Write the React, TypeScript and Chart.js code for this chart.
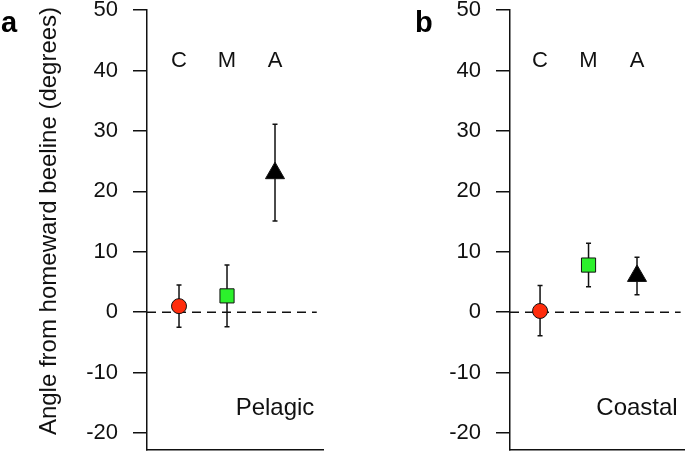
import React, { useEffect, useRef } from 'react';
import { Chart, registerables } from 'chart.js';

Chart.register(...registerables);

// ---- data ----
const categories = ['C', 'M', 'A'];
const categoryX = [1, 2, 3];
const pelagicMean = [1.0, 2.7, 23.0];
const pelagicUpper = [4.5, 7.8, 31.1];
const pelagicLower = [-2.5, -2.4, 15.1];
const coastalMean = [0.2, 7.8, 6.0];
const coastalUpper = [4.4, 11.4, 9.1];
const coastalLower = [-3.9, 4.2, 2.9];
const yTickValues = [-20, -10, 0, 10, 20, 30, 40, 50];
const yAxisTitle = 'Angle from homeward beeline (degrees)';

const markerStyles = ['circle', 'rect', 'triangle'];
const markerColors = ['#ff2c0c', '#2cf02c', '#000000'];
const markerRadii = [7.5, 10, 11];

const FONT = '"Liberation Sans", Arial, Helvetica, sans-serif';
const INK = '#111111';

type PanelProps = {
  letter: string;
  habitat: string;
  mean: number[];
  upper: number[];
  lower: number[];
  width: number;
  left: number;
  yAxisWidth: number;
  rightPad: number;
  xMin: number;
  xMax: number;
  refEnd: number;
  letterX: number;
  showTitle: boolean;
};

function Panel(p: PanelProps) {
  const ref = useRef<HTMLCanvasElement | null>(null);
  useEffect(() => {
    if (!ref.current) return;
    const annot = {
      id: 'annot' + p.letter,
      beforeDatasetsDraw(chart: any) {
        const { ctx } = chart;
        const xs = chart.scales.x;
        const ys = chart.scales.y;
        ctx.save();
        ctx.strokeStyle = INK;
        ctx.lineWidth = 1.5;
        p.upper.forEach((u, i) => {
          const px = xs.getPixelForValue(categoryX[i]);
          const top = ys.getPixelForValue(u);
          const bot = ys.getPixelForValue(p.lower[i]);
          ctx.beginPath();
          ctx.moveTo(px, top);
          ctx.lineTo(px, bot);
          ctx.moveTo(px - 2.5, top);
          ctx.lineTo(px + 2.5, top);
          ctx.moveTo(px - 2.5, bot);
          ctx.lineTo(px + 2.5, bot);
          ctx.stroke();
        });
        ctx.restore();
      },
      afterDraw(chart: any) {
        const { ctx } = chart;
        const xs = chart.scales.x;
        ctx.save();
        ctx.fillStyle = INK;
        ctx.textBaseline = 'alphabetic';
        ctx.textAlign = 'center';
        ctx.font = `22px ${FONT}`;
        categories.forEach((c, i) => {
          ctx.fillText(c, xs.getPixelForValue(categoryX[i]), 67);
        });
        ctx.font = `24px ${FONT}`;
        ctx.fillText(p.habitat, xs.getPixelForValue(categoryX[2]), 415);
        ctx.textAlign = 'left';
        ctx.font = `bold 29px ${FONT}`;
        ctx.fillStyle = '#000';
        ctx.fillText(p.letter, p.letterX, 32);
        if (p.showTitle) {
          ctx.fillStyle = INK;
          ctx.font = `24px ${FONT}`;
          ctx.translate(56, 221);
          ctx.rotate(-Math.PI / 2);
          ctx.textAlign = 'center';
          ctx.fillText(yAxisTitle, 0, 0);
        }
        ctx.restore();
      },
    };

    const chart = new Chart(ref.current, {
      type: 'scatter',
      data: {
        datasets: [
          {
            data: p.mean.map((v, i) => ({ x: categoryX[i], y: v })),
            pointStyle: markerStyles as any,
            pointRadius: markerRadii,
            pointBackgroundColor: markerColors,
            pointBorderColor: '#111',
            pointBorderWidth: 1,
            showLine: false,
            order: 0,
          },
          {
            type: 'line',
            data: [
              { x: p.xMin, y: 0 },
              { x: p.refEnd, y: 0 },
            ],
            borderColor: INK,
            borderWidth: 1.5,
            borderDash: [9, 6],
            pointRadius: 0,
            showLine: true,
            order: 1,
          } as any,
        ],
      },
      options: {
        responsive: false,
        animation: false,
        devicePixelRatio: 1,
        layout: { autoPadding: false, padding: { left: 0, top: 10, right: p.rightPad, bottom: 2 } },
        plugins: { legend: { display: false }, tooltip: { enabled: false } },
        scales: {
          x: {
            type: 'linear',
            min: p.xMin,
            max: p.xMax,
            ticks: { display: false },
            grid: { display: false, drawTicks: false },
            border: { display: true, color: INK, width: 1.5 },
            afterFit: (s: any) => {
              s.height = 0;
              s.paddingLeft = 0;
              s.paddingRight = 0;
            },
          },
          y: {
            type: 'linear',
            min: -22.8,
            max: 50,
            afterBuildTicks: (s: any) => {
              s.ticks = yTickValues.map((v) => ({ value: v }));
            },
            ticks: {
              color: INK,
              padding: 15,
              font: { family: FONT, size: 22 },
              callback: (v: any) => String(v),
            },
            grid: {
              display: true,
              drawOnChartArea: false,
              drawTicks: true,
              tickLength: 14,
              tickColor: INK,
              lineWidth: 1.5,
            },
            border: { display: true, color: INK, width: 1.5 },
            afterFit: (s: any) => {
              s.width = p.yAxisWidth;
              s.paddingTop = 0;
              s.paddingBottom = 0;
            },
          },
        },
      } as any,
      plugins: [annot],
    });
    return () => chart.destroy();
  }, []);
  return (
    <canvas
      ref={ref}
      width={p.width}
      height={452}
      style={{ position: 'absolute', left: p.left, top: 0, display: 'block' }}
    />
  );
}

export default function App() {
  return (
    <div style={{ position: 'absolute', left: 0, top: 0, width: 685, height: 452, background: '#fff', overflow: 'hidden' }}>
      <Panel
        letter="a"
        habitat="Pelagic"
        mean={pelagicMean}
        upper={pelagicUpper}
        lower={pelagicLower}
        width={340}
        left={0}
        yAxisWidth={147}
        rightPad={17}
        xMin={0.333}
        xMax={4.0}
        refEnd={3.87}
        letterX={1}
        showTitle={true}
      />
      <Panel
        letter="b"
        habitat="Coastal"
        mean={coastalMean}
        upper={coastalUpper}
        lower={coastalLower}
        width={345}
        left={340}
        yAxisWidth={170}
        rightPad={0}
        xMin={0.38}
        xMax={3.99}
        refEnd={3.9}
        letterX={75}
        showTitle={false}
      />
    </div>
  );
}
